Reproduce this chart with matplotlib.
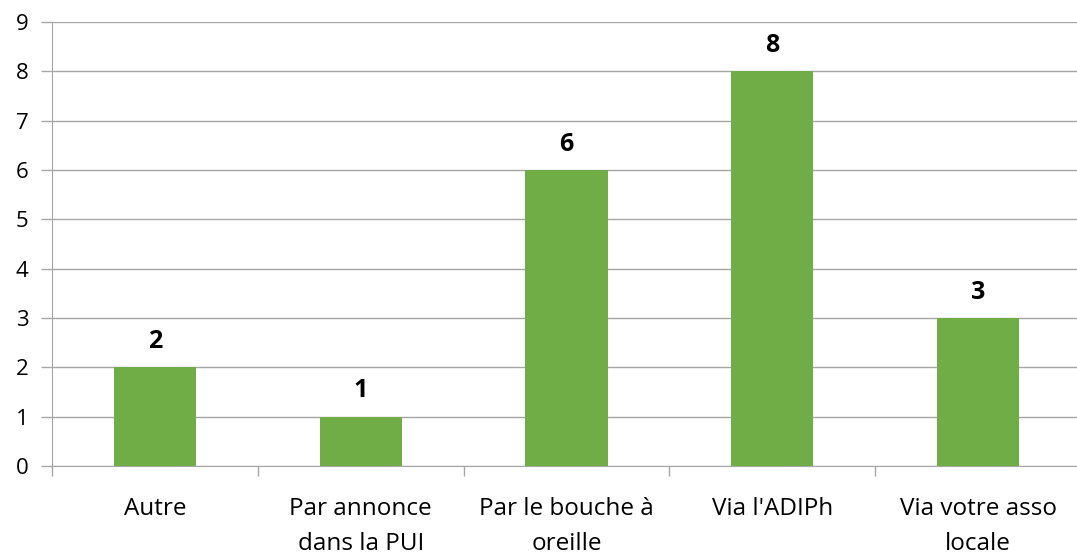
import matplotlib
matplotlib.use("Agg")
import matplotlib.pyplot as plt

categories = ["Autre", "Par annonce\ndans la PUI", "Par le bouche à\noreille", "Via l'ADIPh", "Via votre asso\nlocale"]
values = [2, 1, 6, 8, 3]
yticks = list(range(0, 10))

plt.rcParams['font.family'] = ['Open Sans', 'DejaVu Sans']

fig = plt.figure(figsize=(10.77, 5.57), dpi=100)
left = 52 / 1077
right = 1081 / 1077
bottom = 1 - 466 / 557
top = 1 - 22 / 557
ax = fig.add_axes([left, bottom, right - left, top - bottom])

x = list(range(len(categories)))
bars = ax.bar(x, values, width=0.4, color="#70AD47", zorder=3)

for xi, v in zip(x, values):
    ax.text(xi, v + 0.27, str(v), ha="center", va="bottom", fontsize=18, fontweight="bold", color="black")

ax.set_xlim(-0.5, len(categories) - 0.5)
ax.set_ylim(0, 9)
ax.set_yticks(yticks)
ax.set_yticklabels([str(t) for t in yticks], fontsize=16)
ax.yaxis.grid(True, color="#A6A6A6", linewidth=1, zorder=0)
ax.tick_params(axis="y", length=8, color="#A6A6A6", width=1, pad=9)

ax.set_xticks(x)
ax.set_xticklabels(categories, fontsize=17.5, linespacing=1.65)
ax.tick_params(axis="x", length=0, pad=22)
# category boundary tick marks
ax.set_xticks([i - 0.5 for i in range(len(categories) + 1)], minor=True)
ax.tick_params(axis="x", which="minor", length=7, color="#A6A6A6", width=1)

for s in ["top", "right"]:
    ax.spines[s].set_visible(False)
ax.spines["left"].set_color("#A6A6A6")
ax.spines["bottom"].set_color("#A6A6A6")

fig.savefig("out.png", dpi=100)
